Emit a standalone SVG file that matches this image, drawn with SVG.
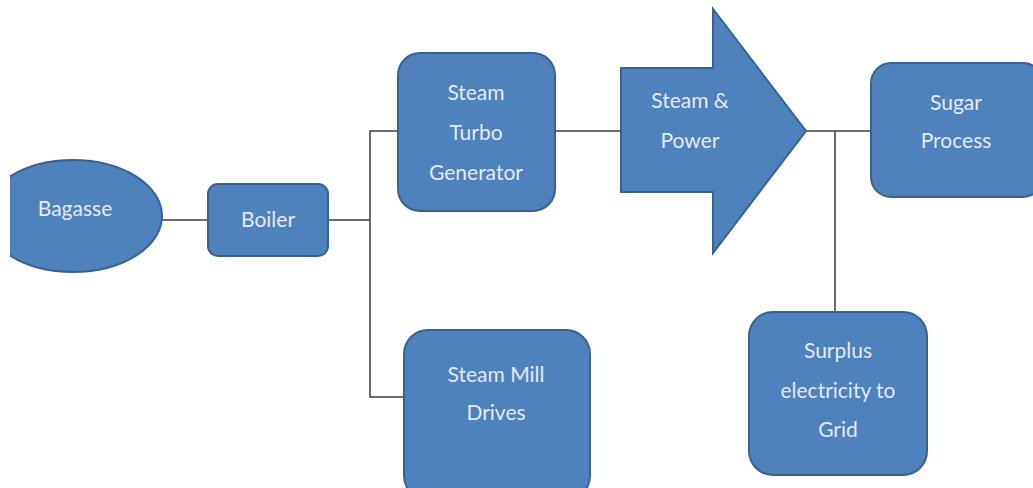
<svg xmlns="http://www.w3.org/2000/svg" width="1033" height="488" viewBox="0 0 1033 488">
<style>
.n{fill:#4f81bd;stroke:#3a6291;stroke-width:2}
.t{font-family:Lato,"Open Sans",sans-serif;font-size:21px;fill:#e4ebf5;text-anchor:middle}
.c{stroke:#3c3c3c;stroke-width:1.5;fill:none}
</style>
<defs>
<clipPath id="cl"><rect x="10" y="0" width="1023" height="488"/></clipPath>
</defs>
<rect width="1033" height="488" fill="#ffffff"/>
<g id="connectors">
<line class="c" x1="160" y1="220" x2="208" y2="220"/>
<line class="c" x1="328" y1="220" x2="370" y2="220"/>
<polyline class="c" points="398,131 370,131 370,397 404,397"/>
<line class="c" x1="555" y1="131" x2="621" y2="131"/>
<line class="c" x1="806" y1="131" x2="871" y2="131"/>
<line class="c" x1="835" y1="131" x2="835" y2="312"/>
</g>
<g id="bagasse">
<ellipse class="n" cx="73" cy="216" rx="89" ry="56" clip-path="url(#cl)"/>
<text class="t" x="75" y="216">Bagasse</text>
</g>
<g id="boiler">
<rect class="n" x="208" y="184" width="120" height="72" rx="10"/>
<text class="t" x="268" y="227">Boiler</text>
</g>
<g id="stg">
<rect class="n" x="398" y="53" width="157" height="158" rx="22"/>
<text class="t" x="476" y="100">Steam</text>
<text class="t" x="476" y="140">Turbo</text>
<text class="t" x="476" y="180">Generator</text>
</g>
<g id="steam-power">
<polygon class="n" points="621,68 713,68 713,9 806,131 713,253 713,192 621,192"/>
<text class="t" x="690" y="108">Steam &amp;</text>
<text class="t" x="690" y="148">Power</text>
</g>
<g id="sugar">
<rect class="n" x="871" y="63" width="172" height="134" rx="20"/>
<text class="t" x="956" y="110">Sugar</text>
<text class="t" x="956" y="148">Process</text>
</g>
<g id="surplus">
<rect class="n" x="749" y="312" width="178" height="163" rx="24"/>
<text class="t" x="838" y="358">Surplus</text>
<text class="t" x="838" y="398">electricity to</text>
<text class="t" x="838" y="437">Grid</text>
</g>
<g id="mill">
<rect class="n" x="404" y="330" width="186" height="170" rx="24"/>
<text class="t" x="496" y="382">Steam Mill</text>
<text class="t" x="496" y="420">Drives</text>
</g>
</svg>
